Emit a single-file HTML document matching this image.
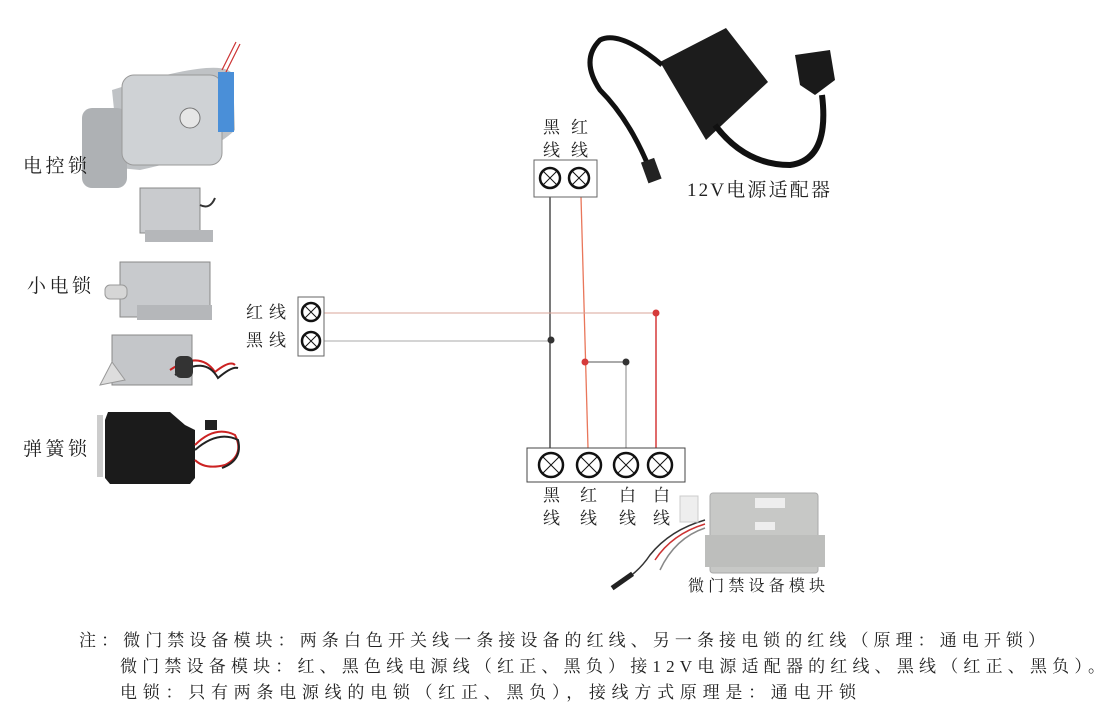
<!DOCTYPE html>
<html><head><meta charset="utf-8"><style>
html,body{margin:0;padding:0;background:#fff;}
svg{display:block;}
text{font-family:"Liberation Serif","Noto Serif CJK SC",serif;fill:#222;}
</style></head><body>
<svg width="1115" height="723" viewBox="0 0 1115 723" xmlns="http://www.w3.org/2000/svg">
<g>
<path d="M112 90 Q225 55 233 75 L235 130 Q210 155 140 170 L120 168 Z" fill="#bfc2c5"/>
<rect x="82" y="108" width="45" height="80" rx="10" fill="#aeb1b4"/>
<rect x="122" y="75" width="100" height="90" rx="12" fill="#cfd2d5" stroke="#999" stroke-width="1"/>
<rect x="218" y="72" width="16" height="60" fill="#4a8fd8"/>
<circle cx="190" cy="118" r="10" fill="#e6e6e6" stroke="#777"/>
<path d="M222 70 L236 42 M226 72 L240 44" stroke="#c33" stroke-width="1.2"/>
</g>
<g>
<rect x="140" y="188" width="60" height="45" fill="#c9cbce" stroke="#888"/>
<rect x="145" y="230" width="68" height="12" fill="#b5b7ba"/>
<path d="M200 205 Q210 210 215 198" stroke="#333" stroke-width="2" fill="none"/>
</g>
<g>
<rect x="120" y="262" width="90" height="55" fill="#c8cacd" stroke="#888"/>
<rect x="105" y="285" width="22" height="14" rx="5" fill="#d6d6d6" stroke="#999"/>
<rect x="137" y="305" width="75" height="15" fill="#b5b7ba"/>
</g>
<g>
<rect x="112" y="335" width="80" height="50" fill="#c4c6c9" stroke="#888"/>
<path d="M100 385 L112 362 L125 380 Z" fill="#ddd" stroke="#999"/>
<path d="M170 370 Q200 350 215 372 Q230 360 235 365" stroke="#c22" stroke-width="2" fill="none"/>
<path d="M175 375 Q205 355 218 378 Q232 366 238 368" stroke="#222" stroke-width="2" fill="none"/>
<rect x="175" y="356" width="18" height="22" rx="6" fill="#333"/>
</g>
<g>
<rect x="97" y="415" width="6" height="62" fill="#ccc"/>
<path d="M108 412 L170 412 L185 425 L195 430 L195 478 L190 484 L110 484 L105 478 L105 420 Z" fill="#1b1b1b"/>
<path d="M195 445 Q215 425 235 435 Q245 455 225 465 Q205 470 195 460" stroke="#c22" stroke-width="2" fill="none"/>
<path d="M195 450 Q218 430 238 440 Q243 460 222 468" stroke="#222" stroke-width="2" fill="none"/>
<rect x="205" y="420" width="12" height="10" fill="#222"/>
</g>
<text x="23" y="172" font-size="19" textLength="64" lengthAdjust="spacing">电控锁</text>
<text x="27" y="292" font-size="19" textLength="64" lengthAdjust="spacing">小电锁</text>
<text x="23" y="455" font-size="19" textLength="64" lengthAdjust="spacing">弹簧锁</text>

<g>
<path d="M660 62 L726 28 L768 82 L706 140 Z" fill="#1c1c1c"/>
<path d="M715 125 Q745 165 790 165 Q830 160 822 95" stroke="#111" stroke-width="6" fill="none"/>
<path d="M795 55 L830 50 L835 80 L815 95 L800 85 Z" fill="#1a1a1a"/>
<path d="M662 65 Q620 30 600 40 Q580 60 600 90 Q630 120 650 170" stroke="#111" stroke-width="5" fill="none"/>
<rect x="644" y="160" width="14" height="22" fill="#222" transform="rotate(-20 650 170)"/>
</g>
<text x="687" y="196" font-size="19" textLength="143" lengthAdjust="spacing">12V电源适配器</text>

<g>
<rect x="710" y="493" width="108" height="80" rx="3" fill="#c7c8c6" stroke="#aaa"/>
<rect x="705" y="535" width="120" height="32" fill="#bdbebc"/>
<rect x="755" y="498" width="30" height="10" fill="#eee"/>
<rect x="755" y="522" width="20" height="8" fill="#eee"/>
<path d="M705 520 Q670 530 650 555 Q640 570 625 580" stroke="#333" stroke-width="1.5" fill="none"/>
<path d="M705 524 Q672 534 655 560" stroke="#c33" stroke-width="1.5" fill="none"/>
<path d="M705 528 Q675 538 660 570" stroke="#888" stroke-width="1.5" fill="none"/>
<rect x="610" y="580" width="25" height="5" fill="#222" transform="rotate(-35 620 582)"/>
<rect x="680" y="496" width="18" height="26" fill="#eee" stroke="#ccc"/>
</g>
<text x="688" y="591" font-size="16" textLength="137" lengthAdjust="spacing">微门禁设备模块</text>

<line x1="550" y1="197" x2="550" y2="448" stroke="#333" stroke-width="1.3"/>
<line x1="581" y1="197" x2="588" y2="448" stroke="#e9765a" stroke-width="1.3"/>
<line x1="324" y1="313" x2="656" y2="313" stroke="#d9a59a" stroke-width="1.1"/>
<line x1="656" y1="313" x2="656" y2="448" stroke="#d63a3a" stroke-width="1.5"/>
<line x1="324" y1="341" x2="550" y2="341" stroke="#aaa" stroke-width="1.1"/>
<line x1="585" y1="362" x2="626" y2="362" stroke="#777" stroke-width="1.2"/>
<line x1="626" y1="362" x2="626" y2="448" stroke="#999" stroke-width="1.2"/>
<circle cx="656" cy="313" r="3.5" fill="#d63a3a"/>
<circle cx="551" cy="340" r="3.5" fill="#333"/>
<circle cx="585" cy="362" r="3.5" fill="#d63a3a"/>
<circle cx="626" cy="362" r="3.5" fill="#333"/>

<g fill="none" stroke="#111">
<rect x="534" y="160" width="63" height="37" stroke="#666" stroke-width="1"/>
<rect x="298" y="297" width="26" height="59" stroke="#666" stroke-width="1"/>
<rect x="527" y="448" width="158" height="34" stroke="#444" stroke-width="1"/>
</g>
<g fill="#fff" stroke="#111" stroke-width="2.5">
<circle cx="550" cy="178" r="10"/><circle cx="579" cy="178" r="10"/>
<circle cx="311" cy="312" r="9"/><circle cx="311" cy="341" r="9"/>
<circle cx="551" cy="465" r="12"/><circle cx="589" cy="465" r="12"/>
<circle cx="626" cy="465" r="12"/><circle cx="660" cy="465" r="12"/>
</g>
<g stroke="#111" stroke-width="1">
<path d="M543 171 L557 185 M557 171 L543 185"/>
<path d="M572 171 L586 185 M586 171 L572 185"/>
<path d="M305 306 L317 318 M317 306 L305 318"/>
<path d="M305 335 L317 347 M317 335 L305 347"/>
<path d="M543 457 L559 473 M559 457 L543 473"/>
<path d="M581 457 L597 473 M597 457 L581 473"/>
<path d="M618 457 L634 473 M634 457 L618 473"/>
<path d="M652 457 L668 473 M668 457 L652 473"/>
</g>

<g font-size="17">
<text x="543" y="133">黑</text><text x="571" y="133">红</text>
<text x="543" y="156">线</text><text x="571" y="156">线</text>
<text x="246" y="318" textLength="40" lengthAdjust="spacing">红线</text>
<text x="246" y="346" textLength="40" lengthAdjust="spacing">黑线</text>
<text x="543" y="501">黑</text><text x="580" y="501">红</text><text x="619" y="501">白</text><text x="653" y="501">白</text>
<text x="543" y="524">线</text><text x="580" y="524">线</text><text x="619" y="524">线</text><text x="653" y="524">线</text>
</g>

<g font-size="17">
<text x="79" y="646" textLength="966" lengthAdjust="spacing">注：微门禁设备模块：两条白色开关线一条接设备的红线、另一条接电锁的红线（原理：通电开锁）</text>
<text x="120" y="672" textLength="985" lengthAdjust="spacing">微门禁设备模块：红、黑色线电源线（红正、黑负）接12V电源适配器的红线、黑线（红正、黑负）。</text>
<text x="120" y="698" textLength="736" lengthAdjust="spacing">电锁：只有两条电源线的电锁（红正、黑负），接线方式原理是：通电开锁</text>
</g>
</svg>
</body></html>
